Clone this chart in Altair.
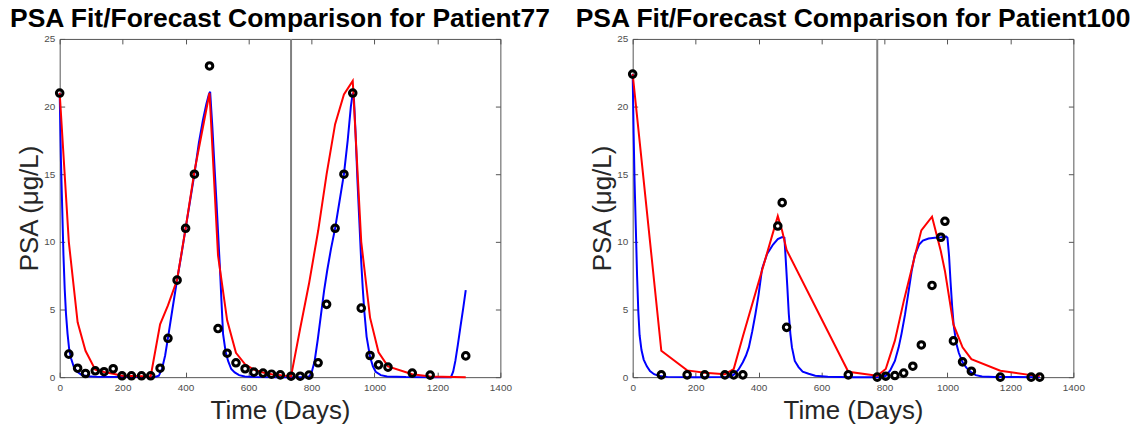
import altair as alt
import pandas as pd

FONT = "Liberation Sans"

x_ticks = [0, 200, 400, 600, 800, 1000, 1200, 1400]
y_ticks = [0, 5, 10, 15, 20, 25]

# ---------------- Patient77 ----------------
p77_name = "Patient77"
p77_day = [0, 29, 57, 82, 113, 141, 170, 198, 228, 260, 289, 319, 344, 373, 400, 428, 476, 503, 532, 560,
           589, 617, 646, 673, 701, 735, 764, 792, 821, 848, 875, 903, 931, 958, 986, 1013, 1043, 1120, 1177, 1290]
p77_psa = [21.0, 1.7, 0.66, 0.27, 0.47, 0.4, 0.62, 0.1, 0.1, 0.1, 0.1, 0.66, 2.87, 7.17, 11.0, 15.0, 23.0, 3.59, 1.77, 1.06,
           0.62, 0.37, 0.3, 0.22, 0.17, 0.07, 0.07, 0.15, 1.06, 5.38, 11.0, 15.0, 21.0, 5.1, 1.6, 0.91, 0.74, 0.3, 0.15, 1.57]
p77_forecast = [21.0, 10.0, 4.05, 1.95, 0.55, 0.38, 0.25, 0.1, 0.08, 0.06, 0.05, 3.9, 5.3, 7.2, 11.0, 15.2, 21.0, 9.0, 4.2, 1.8,
                0.95, 0.55, 0.35, 0.22, 0.15, 0.05, 3.6, 6.9, 10.8, 15.0, 18.7, 20.9, 21.9, 10.0, 4.4, 1.84, 0.8, 0.22, 0.05, 0.0]
p77_fit_day = [0, 4, 8, 12, 16, 20, 25, 30, 36, 45, 55, 70, 90, 120, 200, 295, 305, 315, 325, 335,
               344, 358, 373, 387, 400, 414, 428, 442, 455, 466, 474, 478, 485, 492, 498, 504, 509, 514, 519, 527,
               535, 545, 556, 570, 588, 620, 700, 785, 792, 800, 810, 820, 830, 840, 850, 862, 875, 889, 903, 915,
               925, 931, 935, 940, 946, 951, 958, 963, 968, 975, 986, 995, 1004, 1020, 1040, 1100, 1200, 1243, 1250, 1257,
               1265, 1273, 1282, 1290]
p77_fit_psa = [21.0, 16.0, 12.5, 9.0, 6.5, 4.7, 3.2, 2.1, 1.4, 0.75, 0.42, 0.16, 0.06, 0.02, 0.01, 0.01, 0.03, 0.1, 0.6, 1.6,
               2.9, 5.0, 7.2, 9.1, 11.0, 13.0, 15.0, 17.3, 19.0, 20.2, 20.9, 21.1, 18.5, 15.5, 13.0, 10.3, 8.1, 5.6, 3.2, 1.9,
               1.2, 0.6, 0.35, 0.15, 0.05, 0.01, 0.0, 0.0, 0.05, 0.3, 1.2, 2.8, 4.6, 6.4, 7.9, 9.5, 11.0, 13.0, 15.0, 17.5,
               20.0, 21.0, 20.5, 18.0, 14.5, 12.0, 8.5, 6.5, 4.8, 3.0, 1.5, 0.8, 0.4, 0.15, 0.05, 0.01, 0.0, 0.0, 0.4, 1.2,
               2.4, 3.7, 5.1, 6.43]
p77_split = [735]

# ---------------- Patient100 ----------------
p100_name = "Patient100"
p100_day = [0, 91, 173, 229, 293, 321, 350, 461, 475, 489, 685, 777, 804, 833, 861, 890, 917, 951, 979, 992,
            1019, 1048, 1076, 1168, 1266, 1293]
p100_psa = [22.4, 0.17, 0.17, 0.17, 0.17, 0.17, 0.17, 11.17, 12.9, 3.68, 0.17, 0.0, 0.07, 0.12, 0.3, 0.81, 2.38, 6.78, 10.34, 11.52,
            2.68, 1.13, 0.44, 0.0, 0.0, 0.0]
p100_forecast = [22.4, 1.95, 0.5, 0.33, 0.22, 0.6, 3.0, 11.9, 10.8, 9.4, 0.4, 0.1, 0.6, 2.7, 5.6, 8.35, 10.85, 11.86, 9.3, 7.85,
                 3.9, 2.2, 1.33, 0.47, 0.15, 0.08]
p100_fit_day = [0, 3, 6, 10, 14, 18, 22, 28, 35, 45, 55, 68, 85, 110, 200, 310, 322, 336, 350, 360,
                369, 380, 390, 400, 411, 427, 446, 461, 475, 482, 486, 491, 496, 501, 506, 515, 527, 540, 559, 580,
                620, 700, 790, 804, 818, 833, 845, 854, 865, 875, 886, 896, 910, 922, 940, 960, 980, 996, 1000, 1005,
                1010, 1015, 1020, 1028, 1036, 1048, 1060, 1076, 1090, 1110, 1150, 1293]
p100_fit_psa = [22.4, 18.0, 14.5, 11.0, 7.5, 4.8, 3.1, 2.0, 1.3, 0.8, 0.45, 0.22, 0.08, 0.02, 0.0, 0.02, 0.2, 0.55, 1.1, 1.6,
                2.2, 3.4, 4.67, 6.1, 8.0, 9.1, 9.8, 10.2, 10.35, 10.3, 8.8, 6.8, 4.67, 3.2, 2.2, 1.2, 0.74, 0.4, 0.25, 0.1,
                0.03, 0.0, 0.0, 0.1, 0.5, 1.2, 2.2, 3.2, 4.6, 6.1, 7.8, 9.0, 9.8, 10.1, 10.25, 10.3, 10.35, 10.4, 10.3, 9.0,
                7.0, 5.2, 3.8, 2.5, 1.8, 1.1, 0.7, 0.35, 0.15, 0.05, 0.01, 0.0]
p100_split = [777]


def panel(name, day, psa, forecast, fit_day, fit_psa, split):
    pts = pd.DataFrame({"day": day, "psa": psa})
    fc = pd.DataFrame({"day": day, "psa": forecast})
    fit = pd.DataFrame({"day": fit_day, "psa": fit_psa})
    rule = pd.DataFrame({"day": split})

    xs = alt.Scale(domain=[0, 1400], nice=False, zero=False)
    ys = alt.Scale(domain=[0, 25], nice=False, zero=False)

    ax_bottom = alt.Axis(orient="bottom", values=x_ticks, offset=-5, tickSize=5, domain=False, grid=False,
                         labelFlush=False, labelOverlap=False, labelPadding=5, format="d",
                         title="Time (Days)", titlePadding=6)
    ax_left = alt.Axis(orient="left", values=y_ticks, offset=-5, tickSize=5, domain=False, grid=False,
                       labelPadding=5, format="d", title="PSA (μg/L)", titlePadding=1)
    ax_top = alt.Axis(orient="top", values=x_ticks, offset=-5, tickSize=5, domain=False, grid=False,
                      labels=False, title=None)
    ax_right = alt.Axis(orient="right", values=y_ticks, offset=-5, tickSize=5, domain=False, grid=False,
                        labels=False, title=None)

    frame = alt.Chart(pts).mark_point(opacity=0).encode(
        x=alt.X("day:Q", scale=xs, axis=ax_top),
        y=alt.Y("psa:Q", scale=ys, axis=ax_right),
    )
    vline = alt.Chart(rule).mark_rule(color="#808080", strokeWidth=2).encode(
        x=alt.X("day:Q", scale=xs, axis=None),
    )
    fit_line = alt.Chart(fit).mark_line(color="#0000ff", strokeWidth=2).encode(
        x=alt.X("day:Q", scale=xs, axis=None),
        y=alt.Y("psa:Q", scale=ys, axis=None),
    )
    fc_line = alt.Chart(fc).mark_line(color="#ff0000", strokeWidth=2).encode(
        x=alt.X("day:Q", scale=xs, axis=None),
        y=alt.Y("psa:Q", scale=ys, axis=None),
    )
    points = alt.Chart(pts).mark_point(shape="circle", filled=False, color="black", strokeWidth=3,
                                       size=44, opacity=1).encode(
        x=alt.X("day:Q", scale=xs, axis=ax_bottom),
        y=alt.Y("psa:Q", scale=ys, axis=ax_left),
    )
    return alt.layer(frame, vline, fit_line, fc_line, points).resolve_axis(
        x="independent", y="independent"
    ).properties(
        width=443, height=340,
        title=alt.TitleParams(text=f"PSA Fit/Forecast Comparison for {name}", fontSize=26.6, fontWeight="bold",
                              font=FONT, color="black", anchor="middle", frame="group", offset=-20,
                              baseline="alphabetic"),
    )


left = panel(p77_name, p77_day, p77_psa, p77_forecast, p77_fit_day, p77_fit_psa, p77_split)
right = panel(p100_name, p100_day, p100_psa, p100_forecast, p100_fit_day, p100_fit_psa, p100_split)

chart = alt.hconcat(left, right, spacing=133, bounds="flush").configure_view(
    stroke="#555555", strokeWidth=1
).configure_axis(
    labelFont=FONT, labelFontSize=10, labelColor="#4d4d4d", tickColor="#555555", tickWidth=1,
    titleFont=FONT, titleFontSize=26, titleFontWeight="normal", titleColor="#262626",
).properties(
    padding={"left": 9, "top": 4, "right": 10, "bottom": 4}, background="white"
)

chart.save("out.html", embed_options={"renderer": "svg", "actions": False})
